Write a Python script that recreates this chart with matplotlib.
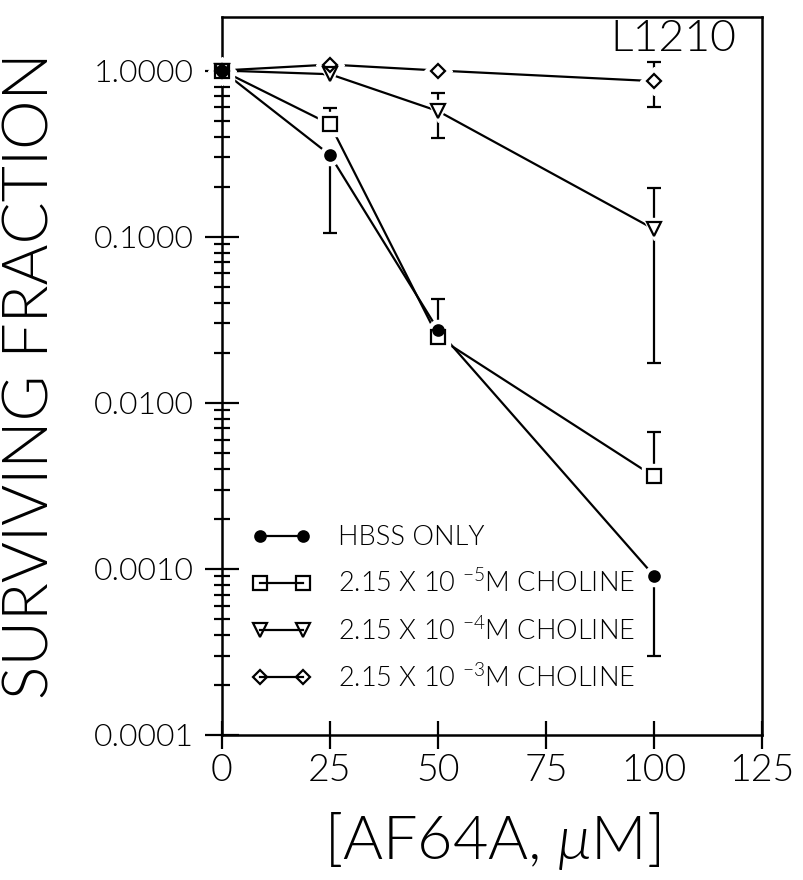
import matplotlib
matplotlib.use('Agg')
import matplotlib.pyplot as plt
from matplotlib.lines import Line2D
from matplotlib.ticker import FixedLocator, FuncFormatter, NullFormatter
import numpy as np

plt.rcParams['font.family'] = ['Lato', 'DejaVu Sans']
plt.rcParams['font.weight'] = 300
plt.rcParams['axes.labelweight'] = 300
plt.rcParams['mathtext.fontset'] = 'custom'
plt.rcParams['mathtext.rm'] = 'Lato:weight=300'
plt.rcParams['mathtext.it'] = 'Lato:weight=300:italic'

# AF64A dose (uM)
dose = [0, 25, 50, 100]

# surviving fraction, with error bar ends
hbss = [1.0, 0.31, 0.0275, 0.00091]
hbss_lo = [1.0, 0.105, 0.0275, 0.0003]
hbss_hi = [1.0, 0.31, 0.042, 0.00091]

chol5 = [1.0, 0.475, 0.0248, 0.0036]
chol5_lo = [1.0, 0.475, 0.0248, 0.0036]
chol5_hi = [1.0, 0.593, 0.0248, 0.0067]

chol4 = [1.0, 0.95, 0.57, 0.111]
chol4_lo = [1.0, 0.95, 0.39, 0.0174]
chol4_hi = [1.0, 0.95, 0.735, 0.197]

chol3 = [1.0, 1.086, 1.0, 0.863]
chol3_lo = [1.0, 1.086, 1.0, 0.60]
chol3_hi = [1.0, 1.086, 1.0, 1.13]

labels = ['HBSS ONLY',
          r'2.15 X 10 $^{-5}$M CHOLINE',
          r'2.15 X 10 $^{-4}$M CHOLINE',
          r'2.15 X 10 $^{-3}$M CHOLINE']

series = [
    (hbss, hbss_lo, hbss_hi, 'o', 7.5, 'k'),
    (chol5, chol5_lo, chol5_hi, 's', 10, 'none'),
    (chol4, chol4_lo, chol4_hi, 'v', 9.5, 'none'),
    (chol3, chol3_lo, chol3_hi, 'D', 7, 'none'),
]

fig = plt.figure(figsize=(8.04, 8.80), dpi=100)
ax = fig.add_axes([0.2761, 0.1648, 0.6716, 0.8159])

handles = []
for y, lo, hi, m, ms, fc in series:
    y = np.array(y)
    err = [y - np.array(lo), np.array(hi) - y]
    ax.plot(dose, y, color='k', lw=1.6, zorder=2)
    ax.errorbar(dose, y, yerr=err, fmt='none', ecolor='k', elinewidth=1.6,
                capsize=5, capthick=1.6, zorder=2)
    # white halo so lines stop short of the symbols
    ax.plot(dose, y, ls='none', marker=m, ms=ms + 7, mfc='w', mec='w',
            zorder=3, clip_on=False)
    ax.plot(dose, y, ls='none', marker=m, ms=ms, mfc=fc, mec='k', mew=1.6,
            zorder=4, clip_on=False)
    handles.append(Line2D([], [], color='k', lw=1.6, marker=m, ms=ms,
                          mfc=fc, mec='k', mew=1.6))

ax.set_yscale('log')
ax.set_ylim(1e-4, 2.1)
ax.set_xlim(0, 125)
ax.set_xticks([0, 25, 50, 75, 100, 125])
ax.set_yticks([1e-4, 1e-3, 1e-2, 1e-1, 1])
ax.yaxis.set_minor_locator(FixedLocator(
    [k * 10.0 ** e for e in range(-4, 0) for k in range(2, 10)]))
ax.yaxis.set_minor_formatter(NullFormatter())
ax.yaxis.set_major_formatter(FuncFormatter(lambda v, p: '%.4f' % v))

ax.tick_params(axis='y', which='major', direction='inout', length=24,
               width=1.6, labelsize=23, pad=8)
ax.tick_params(axis='y', which='minor', direction='inout', length=12,
               width=1.6)
ax.tick_params(axis='x', which='major', direction='inout', length=20,
               width=1.6, labelsize=27, pad=4)
for s in ax.spines.values():
    s.set_linewidth(1.8)

ax.set_ylabel('SURVIVING FRACTION', fontsize=45)
ax.yaxis.set_label_coords(-0.30, 0.5)
ax.set_xlabel(r'[AF64A, $\mu$M]', fontsize=44)
ax.xaxis.set_label_coords(0.5, -0.105)

ax.text(0.835, 0.968, 'L1210', transform=ax.transAxes, fontsize=32,
        ha='center', va='center')

ax.legend(handles, labels, loc='lower left', bbox_to_anchor=(0.055, 0.06),
          frameon=False, fontsize=19.5, handlelength=2.2, handletextpad=1.0,
          labelspacing=0.72, borderpad=0, borderaxespad=0, numpoints=2)

fig.savefig('out.png', dpi=100)
